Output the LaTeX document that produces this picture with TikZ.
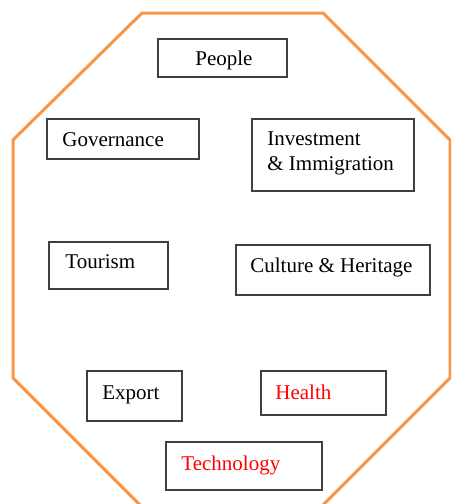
\documentclass[tikz,border=0pt]{standalone}
\usepackage{fontspec}
\setmainfont{Liberation Serif}
\definecolor{frameorange}{RGB}{247,150,70}
\begin{document}
\begin{tikzpicture}[x=0.5pt, y=-0.5pt,
    frame/.style={draw=frameorange, line width=1.5pt, line join=miter},
    box/.style={draw=black!75, line width=0.65pt},
    lbl/.style={anchor=base west, inner sep=0pt, align=left,
        font=\fontsize{10.5}{12.5}\selectfont}]
    \useasboundingbox (0,0) rectangle (451,504);
    \clip (0,0) rectangle (451,504);

    % Outer octagon
    \draw[frame] (142,13) -- (323,13) -- (450,140) -- (450,378)
        -- (321,507) -- (142,507) -- (13,378) -- (13,140) -- cycle;

    % Top row
    \draw[box] (158,39) rectangle (287,77);
    \node[lbl] (people) at (195,65) {People};

    \draw[box] (47,119) rectangle (199,159);
    \node[lbl] (governance) at (62,146) {Governance};

    % base of a two-line node sits on its last line
    \draw[box] (252,119) rectangle (414,191);
    \node[lbl] (investment) at (267,170) {Investment\\\& Immigration};

    % Middle row
    \draw[box] (49,242) rectangle (168,289);
    \node[lbl] (tourism) at (65,268) {Tourism};

    \draw[box] (236,245) rectangle (430,295);
    \node[lbl] (culture) at (250,272) {Culture \& Heritage};

    % Bottom rows
    \draw[box] (87,371) rectangle (182,421);
    \node[lbl] (export) at (102,399) {Export};

    \draw[box] (261,371) rectangle (386,415);
    \node[lbl, red] (health) at (275,399) {Health};

    \draw[box] (166,442) rectangle (322,490);
    \node[lbl, red] (technology) at (181,470) {Technology};
\end{tikzpicture}
\end{document}
